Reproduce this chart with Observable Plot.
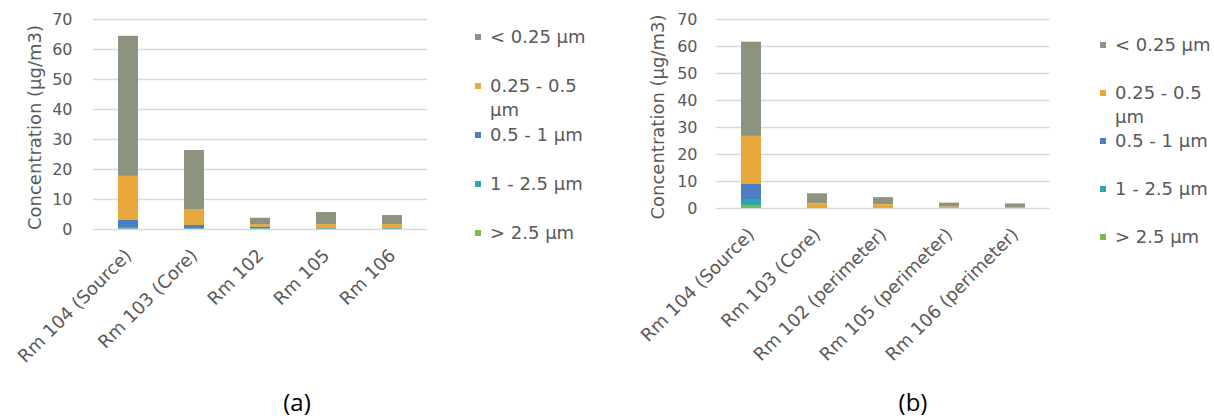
<!DOCTYPE html>
<html>
<head>
<meta charset="utf-8">
<script src="https://cdn.jsdelivr.net/npm/d3@7"></script>
<script src="https://cdn.jsdelivr.net/npm/@observablehq/plot@0.6"></script>
<style>
  body { margin: 0; background: #fff; }
  #root { position: relative; width: 1214px; height: 419px; overflow: hidden; font-family: "DejaVu Sans", sans-serif; }
  .panel { position: absolute; top: 0; }
  .panel svg { overflow: visible; }
  .legend { position: absolute; color: #595959; font-size: 18px; }
  .legend .item { position: absolute; left: 0; width: 125px; line-height: 24px; }
  .legend .sw { position: absolute; left: 0; top: 9px; width: 6px; height: 6px; }
  .legend .tx { position: absolute; left: 15px; width: 104px; }
  .caption { position: absolute; font-family: "Open Sans", sans-serif; font-size: 24px; line-height: 24px; color: #000; width: 80px; text-align: center; }
</style>
</head>
<body>
<div id="root"></div>
<script>
// ---- data ----
const sizes = ["< 0.25 µm", "0.25 - 0.5 µm", "0.5 - 1 µm", "1 - 2.5 µm", "> 2.5 µm"];
const sizeColors = ["#8c9480", "#e8a93c", "#4b7fc0", "#2fa3b5", "#7dbb47"];
const yTicks = [0, 10, 20, 30, 40, 50, 60, 70];
const yLabel = "Concentration (µg/m3)";

const roomsA = ["Rm 104 (Source)", "Rm 103 (Core)", "Rm 102", "Rm 105", "Rm 106"];
const a_lt025  = [46.7, 19.7, 2.1, 4.0, 3.0];
const a_025_05 = [14.7, 5.3, 0.9, 1.3, 1.3];
const a_05_1   = [2.6, 1.2, 0.5, 0.2, 0.2];
const a_1_25   = [0.3, 0.1, 0.2, 0.1, 0.1];
const a_gt25   = [0.1, 0.05, 0.05, 0.05, 0.05];

const roomsB = ["Rm 104 (Source)", "Rm 103 (Core)", "Rm 102 (perimeter)", "Rm 105 (perimeter)", "Rm 106 (perimeter)"];
const b_lt025  = [34.9, 3.7, 2.6, 1.5, 1.4];
const b_025_05 = [17.8, 1.5, 1.2, 0.4, 0.2];
const b_05_1   = [5.9, 0.1, 0.1, 0.05, 0.05];
const b_1_25   = [1.9, 0.1, 0.05, 0.03, 0.03];
const b_gt25   = [1.1, 0.05, 0.05, 0.02, 0.02];

const captionA = "(a)";
const captionB = "(b)";

// ---- build ----
const textColor = "#595959";
const gridColor = "#d9d9d9";
const stackOrder = ["> 2.5 µm", "1 - 2.5 µm", "0.5 - 1 µm", "0.25 - 0.5 µm", "< 0.25 µm"];

function table(rooms, series) {
  const rows = [];
  rooms.forEach((room, i) => {
    sizes.forEach((s, k) => rows.push({room, size: s, value: series[k][i]}));
  });
  return rows;
}

function chart(rooms, rows, m) {
  return Plot.plot({
    width: m.width, height: m.height,
    marginLeft: m.left, marginRight: m.right, marginTop: m.top, marginBottom: m.bottom,
    style: {fontFamily: "DejaVu Sans, sans-serif", fontSize: "16px", color: textColor, background: "transparent", overflow: "visible"},
    x: {domain: rooms, paddingInner: 0.7, paddingOuter: 0.35, label: null},
    y: {domain: [0, 70], ticks: yTicks, label: null},
    color: {domain: sizes, range: sizeColors},
    marks: [
      Plot.gridY(yTicks, {stroke: gridColor, strokeOpacity: 1, strokeWidth: 1.3}),
      Plot.axisY(yTicks, {tickSize: 0, tickPadding: m.tickPad, fontSize: 16, label: null, fill: textColor}),
      Plot.axisX({tickRotate: -45, tickSize: 0, tickPadding: 23, fontSize: 18, label: null, fill: textColor}),
      Plot.barY(rows, Plot.stackY({order: stackOrder}, {x: "room", y: "value", fill: "size"})),
      Plot.text([yLabel], {frameAnchor: "left", textAnchor: "middle", rotate: -90, dx: -m.labelOff, dy: 3, fontSize: 18, fill: textColor})
    ]
  });
}

function legend(left, top, step) {
  const d = document.createElement("div");
  d.className = "legend";
  d.style.left = left + "px";
  d.style.top = "0px";
  sizes.forEach((s, i) => {
    const it = document.createElement("div");
    it.className = "item";
    it.style.top = (top + step * i - 12) + "px";
    it.innerHTML = `<div class="sw" style="background:${sizeColors[i]}"></div><div class="tx">${s}</div>`;
    d.appendChild(it);
  });
  return d;
}

function caption(txt, cx, cy) {
  const c = document.createElement("div");
  c.className = "caption";
  c.textContent = txt;
  c.style.left = (cx - 40) + "px";
  c.style.top = (cy - 12) + "px";
  return c;
}

const root = document.getElementById("root");

const pa = document.createElement("div");
pa.className = "panel"; pa.style.left = "0px";
pa.appendChild(chart(roomsA, table(roomsA, [a_lt025, a_025_05, a_05_1, a_1_25, a_gt25]),
  {width: 450, height: 400, left: 93, right: 23, top: 19, bottom: 171, tickPad: 21, labelOff: 58}));
root.appendChild(pa);

const pb = document.createElement("div");
pb.className = "panel"; pb.style.left = "620px";
pb.appendChild(chart(roomsB, table(roomsB, [b_lt025, b_025_05, b_05_1, b_1_25, b_gt25]),
  {width: 450, height: 400, left: 96, right: 20, top: 19, bottom: 192, tickPad: 19, labelOff: 58}));
root.appendChild(pb);

root.appendChild(legend(475, 37, 49));
root.appendChild(legend(1100, 45, 48));
root.appendChild(caption(captionA, 297, 402));
root.appendChild(caption(captionB, 913, 402));
</script>
</body>
</html>
